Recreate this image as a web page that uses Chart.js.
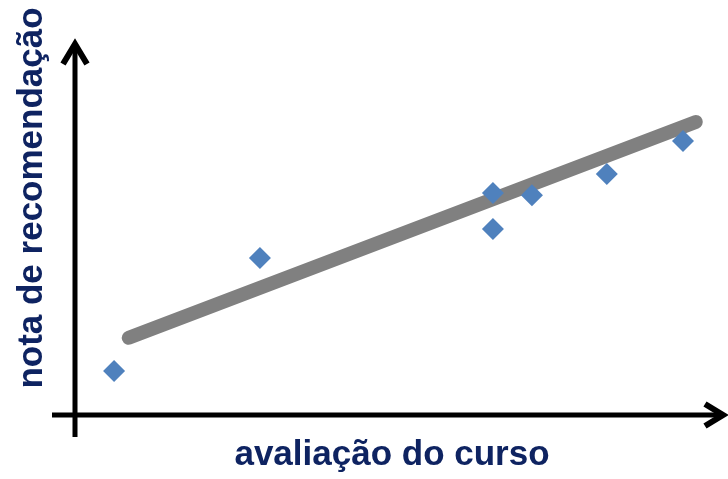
<!DOCTYPE html>
<html>
<head>
<meta charset="utf-8">
<script src="https://cdn.jsdelivr.net/npm/chart.js@4/dist/chart.umd.min.js"></script>
<style>
  html, body { margin: 0; padding: 0; background: #ffffff; }
  #wrap { width: 728px; height: 479px; }
</style>
</head>
<body>
<div id="wrap"><canvas id="c" width="728" height="479"></canvas></div>
<script>
// ---- data ----
const courseRating = [0.61, 2.89, 6.53, 6.53, 7.14, 8.31, 9.50];
const recommendScore = [1.21, 4.31, 6.10, 5.11, 6.04, 6.62, 7.53];
const trendX = [0.84, 9.70];
const trendY = [2.12, 8.05];
const xTitle = 'avaliação do curso';
const yTitle = 'nota de recomendação';

const pointData = courseRating.map((x, i) => ({ x: x, y: recommendScore[i] }));
const trendData = trendX.map((x, i) => ({ x: x, y: trendY[i] }));

const TITLE_FONT = 'bold 35px "Liberation Sans Narrow", "Arial Narrow", "Liberation Sans", sans-serif';
const NAVY = '#0E2361';

const arrowAxes = {
  id: 'arrowAxes',
  beforeDatasetsDraw(chart) {
    const ctx = chart.ctx;
    const xs = chart.scales.x, ys = chart.scales.y;
    const ox = xs.getPixelForValue(0);
    const oy = ys.getPixelForValue(0);
    const top = ys.getPixelForValue(10);
    ctx.save();
    ctx.strokeStyle = '#000000';
    ctx.lineWidth = 5;
    ctx.lineCap = 'butt';
    ctx.lineJoin = 'miter';
    // y axis
    ctx.beginPath();
    ctx.moveTo(ox, oy + 22);
    ctx.lineTo(ox, top - 6);
    ctx.stroke();
    ctx.lineWidth = 6;
    ctx.beginPath();
    ctx.moveTo(ox - 12, top + 13);
    ctx.lineTo(ox, top - 7);
    ctx.lineTo(ox + 12, top + 13);
    ctx.stroke();
    // x axis
    const right = 722;
    ctx.lineWidth = 5;
    ctx.beginPath();
    ctx.moveTo(ox - 23, oy);
    ctx.lineTo(right, oy);
    ctx.stroke();
    ctx.lineWidth = 6;
    ctx.beginPath();
    ctx.moveTo(right - 17, oy - 11);
    ctx.lineTo(right + 1, oy);
    ctx.lineTo(right - 17, oy + 11);
    ctx.stroke();
    ctx.restore();
  },
  afterDraw(chart) {
    const ctx = chart.ctx;
    ctx.save();
    ctx.fillStyle = NAVY;
    ctx.font = TITLE_FONT;
    ctx.textAlign = 'center';
    ctx.textBaseline = 'alphabetic';
    ctx.fillText(xTitle, 392, 465);
    ctx.translate(42, 198);
    ctx.rotate(-Math.PI / 2);
    ctx.fillText(yTitle, 0, 0);
    ctx.restore();
  }
};

new Chart(document.getElementById('c'), {
  type: 'scatter',
  data: {
    datasets: [
      {
        label: 'pontos',
        data: pointData,
        pointStyle: 'rectRot',
        pointRadius: 11,
        pointHoverRadius: 11,
        backgroundColor: '#4F81BD',
        borderColor: '#4F81BD',
        borderWidth: 0,
        order: 0
      },
      {
        type: 'line',
        label: 'tendência',
        data: trendData,
        borderColor: '#808080',
        borderWidth: 14,
        borderCapStyle: 'round',
        pointRadius: 0,
        fill: false,
        tension: 0,
        order: 1
      }
    ]
  },
  options: {
    responsive: false,
    animation: false,
    devicePixelRatio: 1,
    layout: { padding: { left: 75, right: 13, top: 51, bottom: 64 } },
    plugins: { legend: { display: false }, tooltip: { enabled: false } },
    scales: {
      x: { type: 'linear', min: 0, max: 10, display: false },
      y: { type: 'linear', min: 0, max: 10, display: false }
    }
  },
  plugins: [arrowAxes]
});
</script>
</body>
</html>
